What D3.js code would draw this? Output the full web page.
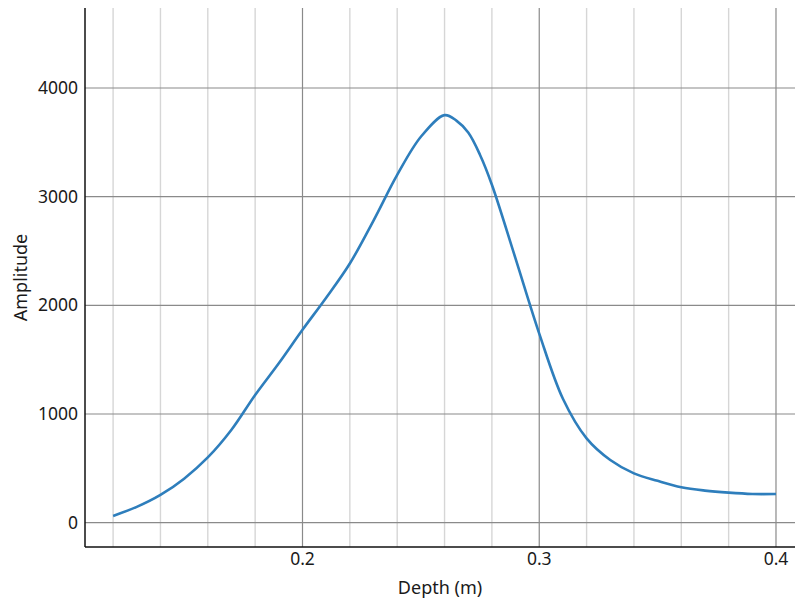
<!DOCTYPE html>
<html lang="en">
<head>
	<meta charset="utf-8">
	<title>Amplitude vs depth</title>
	<script src="https://cdn.jsdelivr.net/npm/d3@7"></script>
	<style>
		body {
			margin: 0;
			background: #fff;
			font-family: 'Noto Sans', 'Open Sans', sans-serif;
		}
		.tick-label {
			font-size: 17.5px;
			fill: #1a1a1a;
		}
		.axis-title {
			font-size: 18px;
			fill: #1a1a1a;
		}
	</style>
</head>
<body>
	<div id="viz"></div>
	<script>
	var WIDTH = 795;
	var HEIGHT = 601;

	// depth in metres
	var depth = [0.12, 0.13, 0.14, 0.15, 0.16, 0.17, 0.18, 0.19, 0.20, 0.21,
		0.22, 0.23, 0.24, 0.25, 0.26, 0.265, 0.27, 0.275, 0.28, 0.29, 0.30, 0.31,
		0.32, 0.33, 0.34, 0.35, 0.36, 0.37, 0.38, 0.39, 0.40];
	var amplitude = [62, 145, 255, 405, 600, 855, 1175, 1467, 1775, 2070,
		2385, 2780, 3200, 3551, 3750, 3700, 3590, 3384, 3110, 2430, 1740, 1140,
		776, 577, 454, 385, 326, 295, 276, 264, 264];

	var xMajorTicks = [0.2, 0.3, 0.4];
	var xMinorTicks = [0.12, 0.14, 0.16, 0.18, 0.22, 0.24, 0.26, 0.28, 0.32, 0.34, 0.36, 0.38];
	var yTicks = [0, 1000, 2000, 3000, 4000];

	var plot = {left: 85, right: 795, top: 8, bottom: 547};

	var x = d3.scaleLinear().domain([0.10813, 0.40803]).range([plot.left, plot.right]);
	var y = d3.scaleLinear().domain([-224, 4736]).range([plot.bottom, plot.top]);

	var svg = d3.select('#viz')
		.append('svg')
		.attr('width', WIDTH)
		.attr('height', HEIGHT);

	// minor vertical grid
	svg.append('g').selectAll('line')
		.data(xMinorTicks)
		.enter().append('line')
		.attr('x1', function(d) { return x(d); })
		.attr('x2', function(d) { return x(d); })
		.attr('y1', plot.top)
		.attr('y2', plot.bottom)
		.attr('stroke', '#d6d6d6')
		.attr('stroke-width', 1.4);

	// major vertical grid
	svg.append('g').selectAll('line')
		.data(xMajorTicks)
		.enter().append('line')
		.attr('x1', function(d) { return x(d); })
		.attr('x2', function(d) { return x(d); })
		.attr('y1', plot.top)
		.attr('y2', plot.bottom)
		.attr('stroke', '#8a8a8a')
		.attr('stroke-width', 1.2);

	// horizontal grid
	svg.append('g').selectAll('line')
		.data(yTicks)
		.enter().append('line')
		.attr('x1', plot.left)
		.attr('x2', plot.right)
		.attr('y1', function(d) { return y(d); })
		.attr('y2', function(d) { return y(d); })
		.attr('stroke', '#8a8a8a')
		.attr('stroke-width', 1.2);

	// the curve
	var pts = depth.map(function(d, i) { return [d, amplitude[i]]; });
	var line = d3.line()
		.x(function(d) { return x(d[0]); })
		.y(function(d) { return y(d[1]); })
		.curve(d3.curveCatmullRom.alpha(0.5));

	svg.append('path')
		.datum(pts)
		.attr('d', line)
		.attr('fill', 'none')
		.attr('stroke', '#2e7ebc')
		.attr('stroke-width', 2.6);

	// axes lines
	svg.append('line')
		.attr('x1', plot.left).attr('x2', plot.left)
		.attr('y1', plot.top).attr('y2', plot.bottom)
		.attr('stroke', '#111').attr('stroke-width', 1.5);
	svg.append('line')
		.attr('x1', plot.left).attr('x2', plot.right)
		.attr('y1', plot.bottom).attr('y2', plot.bottom)
		.attr('stroke', '#111').attr('stroke-width', 1.5);

	// tick labels
	svg.append('g').selectAll('text')
		.data(yTicks)
		.enter().append('text')
		.attr('class', 'tick-label')
		.attr('x', plot.left - 7)
		.attr('y', function(d) { return y(d); })
		.attr('dy', '0.35em')
		.attr('text-anchor', 'end')
		.text(function(d) { return d; });

	svg.append('g').selectAll('text')
		.data(xMajorTicks)
		.enter().append('text')
		.attr('class', 'tick-label')
		.attr('x', function(d) { return x(d); })
		.attr('y', 565)
		.attr('text-anchor', 'middle')
		.text(function(d) { return d3.format('.1f')(d); });

	// axis titles
	svg.append('text')
		.attr('class', 'axis-title')
		.attr('x', (plot.left + plot.right) / 2)
		.attr('y', 594)
		.attr('text-anchor', 'middle')
		.text('Depth (m)');

	svg.append('text')
		.attr('class', 'axis-title')
		.attr('transform', 'translate(27,' + ((plot.top + plot.bottom) / 2) + ') rotate(-90)')
		.attr('text-anchor', 'middle')
		.text('Amplitude');
	</script>
</body>
</html>
